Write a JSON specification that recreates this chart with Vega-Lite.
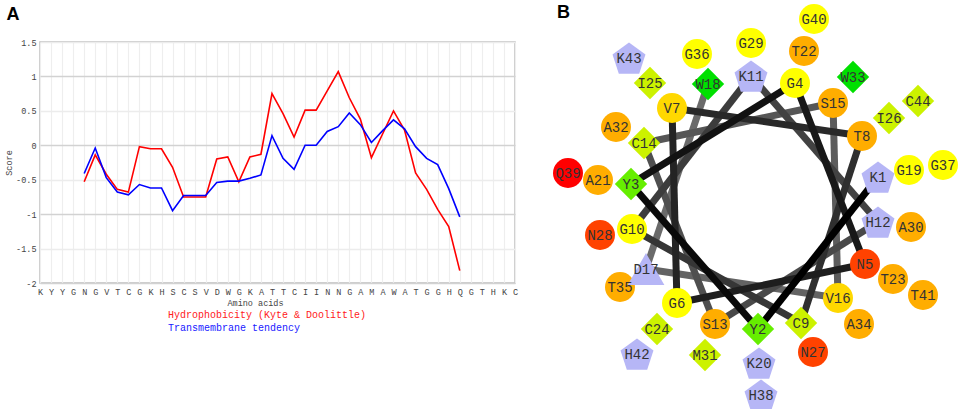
{
  "$schema": "https://vega.github.io/schema/vega-lite/v6.json",
  "background": "white",
  "padding": {"left": 3, "top": 4, "right": 0, "bottom": 0},
  "bounds": "flush",
  "spacing": 40,
  "config": {
    "view": {"stroke": "#bdbdbd", "strokeWidth": 1.5},
    "axis": {
      "labelFont": "Liberation Mono",
      "titleFont": "Liberation Mono",
      "labelColor": "#444",
      "titleColor": "#444",
      "titleFontWeight": "normal",
      "labelFontSize": 8.5,
      "titleFontSize": 8.5,
      "domain": false,
      "ticks": false
    },
    "title": {"font": "Liberation Sans", "fontSize": 18, "fontWeight": "bold", "color": "#000"}
  },
  "hconcat": [
    {
      "title": {"text": "A", "anchor": "start", "frame": "bounds", "offset": 14, "dx": 2},
      "width": 475,
      "height": 241,
      "data": {
        "values": [
          {"pos": 5, "hydro": -0.53, "tm": -0.41},
          {"pos": 6, "hydro": -0.14, "tm": -0.04},
          {"pos": 7, "hydro": -0.42, "tm": -0.47},
          {"pos": 8, "hydro": -0.64, "tm": -0.68},
          {"pos": 9, "hydro": -0.68, "tm": -0.72},
          {"pos": 10, "hydro": -0.02, "tm": -0.57},
          {"pos": 11, "hydro": -0.05, "tm": -0.62},
          {"pos": 12, "hydro": -0.05, "tm": -0.62},
          {"pos": 13, "hydro": -0.32, "tm": -0.95},
          {"pos": 14, "hydro": -0.75, "tm": -0.73},
          {"pos": 15, "hydro": -0.75, "tm": -0.73},
          {"pos": 16, "hydro": -0.75, "tm": -0.73},
          {"pos": 17, "hydro": -0.2, "tm": -0.54},
          {"pos": 18, "hydro": -0.17, "tm": -0.52},
          {"pos": 19, "hydro": -0.53, "tm": -0.52},
          {"pos": 20, "hydro": -0.17, "tm": -0.48},
          {"pos": 21, "hydro": -0.13, "tm": -0.43},
          {"pos": 22, "hydro": 0.75, "tm": 0.14},
          {"pos": 23, "hydro": 0.46, "tm": -0.19},
          {"pos": 24, "hydro": 0.12, "tm": -0.35},
          {"pos": 25, "hydro": 0.51, "tm": 0.0},
          {"pos": 26, "hydro": 0.51, "tm": 0.0},
          {"pos": 27, "hydro": 0.79, "tm": 0.2},
          {"pos": 28, "hydro": 1.07, "tm": 0.27},
          {"pos": 29, "hydro": 0.69, "tm": 0.47},
          {"pos": 30, "hydro": 0.38, "tm": 0.3},
          {"pos": 31, "hydro": -0.18, "tm": 0.04},
          {"pos": 32, "hydro": 0.16, "tm": 0.21},
          {"pos": 33, "hydro": 0.5, "tm": 0.37},
          {"pos": 34, "hydro": 0.22, "tm": 0.24},
          {"pos": 35, "hydro": -0.4, "tm": -0.02},
          {"pos": 36, "hydro": -0.64, "tm": -0.19},
          {"pos": 37, "hydro": -0.93, "tm": -0.28},
          {"pos": 38, "hydro": -1.18, "tm": -0.63},
          {"pos": 39, "hydro": -1.82, "tm": -1.04}
        ]
      },
      "transform": [{"fold": ["hydro", "tm"], "as": ["key", "score"]}],
      "mark": {"type": "line", "strokeWidth": 1.6},
      "encoding": {
        "x": {
          "field": "pos",
          "type": "quantitative",
          "scale": {"domain": [1, 44], "nice": false, "zero": false},
          "axis": {
            "values": [1, 2, 3, 4, 5, 6, 7, 8, 9, 10, 11, 12, 13, 14, 15, 16, 17, 18, 19, 20, 21, 22, 23, 24, 25, 26, 27, 28, 29, 30, 31, 32, 33, 34, 35, 36, 37, 38, 39, 40, 41, 42, 43, 44],
            "labelExpr": "substring('KYYGNGVTCGKHSCSVDWGKATTCIINNGAMAWATGGHQGTHKC', datum.value - 1, datum.value)",
            "labelOverlap": false,
            "labelFlush": false,
            "labelPadding": 4,
            "title": "Amino acids",
            "titlePadding": 3,
            "titleX": 215,
            "gridColor": "#eeeeee",
            "gridWidth": 1.2
          }
        },
        "y": {
          "field": "score",
          "type": "quantitative",
          "scale": {"domain": [-2, 1.5], "nice": false},
          "axis": {
            "values": [-2, -1.5, -1, -0.5, 0, 0.5, 1, 1.5],
            "labelExpr": "'' + datum.value",
            "labelPadding": 4,
            "title": "Score",
            "titlePadding": 2,
            "gridColor": {"condition": {"test": "datum.value % 1 == 0", "value": "#d2d2d2"}, "value": "#ececec"},
            "gridWidth": 1.5
          }
        },
        "color": {
          "field": "key",
          "type": "nominal",
          "scale": {"domain": ["hydro", "tm"], "range": ["#ff0000", "#0000ff"]},
          "legend": {
            "orient": "none",
            "legendX": 118,
            "legendY": 268,
            "title": null,
            "direction": "vertical",
            "symbolSize": 0,
            "symbolStrokeWidth": 0,
            "symbolOpacity": 0,
            "labelOffset": 0,
            "padding": 0,
            "rowPadding": 3,
            "labelFont": "Liberation Mono",
            "labelFontSize": 10,
            "labelLimit": 400,
            "labelExpr": "datum.value == 'hydro' ? 'Hydrophobicity (Kyte & Doolittle)' : 'Transmembrane tendency'",
            "labelColor": {"expr": "datum.value == 'tm' ? '#2020ff' : '#ff2020'"}
          }
        }
      }
    },
    {
      "title": {"text": "B", "anchor": "start", "frame": "group", "offset": -18, "dx": 2},
      "width": 405,
      "height": 360,
      "view": {"stroke": null},
      "data": {
        "values": [
          {"n": 1, "id": "K1", "aa": "K", "kind": "basic", "x": 123, "y": 26},
          {"n": 2, "id": "Y2", "aa": "Y", "kind": "nonpolar", "x": 3, "y": -126},
          {"n": 3, "id": "Y3", "aa": "Y", "kind": "nonpolar", "x": -124, "y": 19},
          {"n": 4, "id": "G4", "aa": "G", "kind": "polar", "x": 40, "y": 120},
          {"n": 5, "id": "N5", "aa": "N", "kind": "polar", "x": 110, "y": -61},
          {"n": 6, "id": "G6", "aa": "G", "kind": "polar", "x": -78, "y": -100},
          {"n": 7, "id": "V7", "aa": "V", "kind": "polar", "x": -83, "y": 95},
          {"n": 8, "id": "T8", "aa": "T", "kind": "polar", "x": 107, "y": 67},
          {"n": 9, "id": "C9", "aa": "C", "kind": "nonpolar", "x": 46, "y": -120},
          {"n": 10, "id": "G10", "aa": "G", "kind": "polar", "x": -123, "y": -26},
          {"n": 11, "id": "K11", "aa": "K", "kind": "basic", "x": -4, "y": 127},
          {"n": 12, "id": "H12", "aa": "H", "kind": "basic", "x": 123, "y": -19},
          {"n": 13, "id": "S13", "aa": "S", "kind": "polar", "x": -40, "y": -121},
          {"n": 14, "id": "C14", "aa": "C", "kind": "nonpolar", "x": -111, "y": 60},
          {"n": 15, "id": "S15", "aa": "S", "kind": "polar", "x": 78, "y": 100},
          {"n": 16, "id": "V16", "aa": "V", "kind": "polar", "x": 83, "y": -95},
          {"n": 17, "id": "D17", "aa": "D", "kind": "acidic", "x": -109, "y": -66},
          {"n": 18, "id": "W18", "aa": "W", "kind": "nonpolar", "x": -47, "y": 119},
          {"n": 19, "id": "G19", "aa": "G", "kind": "polar", "x": 154, "y": 33},
          {"n": 20, "id": "K20", "aa": "K", "kind": "basic", "x": 4, "y": -160},
          {"n": 21, "id": "A21", "aa": "A", "kind": "polar", "x": -157, "y": 23},
          {"n": 22, "id": "T22", "aa": "T", "kind": "polar", "x": 49, "y": 152},
          {"n": 23, "id": "T23", "aa": "T", "kind": "polar", "x": 138, "y": -76},
          {"n": 24, "id": "C24", "aa": "C", "kind": "nonpolar", "x": -98, "y": -126},
          {"n": 25, "id": "I25", "aa": "I", "kind": "nonpolar", "x": -105, "y": 120},
          {"n": 26, "id": "I26", "aa": "I", "kind": "nonpolar", "x": 134, "y": 85},
          {"n": 27, "id": "N27", "aa": "N", "kind": "polar", "x": 58, "y": -149},
          {"n": 28, "id": "N28", "aa": "N", "kind": "polar", "x": -155, "y": -32},
          {"n": 29, "id": "G29", "aa": "G", "kind": "polar", "x": -4, "y": 160},
          {"n": 30, "id": "A30", "aa": "A", "kind": "polar", "x": 156, "y": -24},
          {"n": 31, "id": "M31", "aa": "M", "kind": "nonpolar", "x": -50, "y": -152},
          {"n": 32, "id": "A32", "aa": "A", "kind": "polar", "x": -139, "y": 76},
          {"n": 33, "id": "W33", "aa": "W", "kind": "nonpolar", "x": 98, "y": 126},
          {"n": 34, "id": "A34", "aa": "A", "kind": "polar", "x": 104, "y": -121},
          {"n": 35, "id": "T35", "aa": "T", "kind": "polar", "x": -135, "y": -84},
          {"n": 36, "id": "G36", "aa": "G", "kind": "polar", "x": -58, "y": 149},
          {"n": 37, "id": "G37", "aa": "G", "kind": "polar", "x": 188, "y": 38},
          {"n": 38, "id": "H38", "aa": "H", "kind": "basic", "x": 6, "y": -192},
          {"n": 39, "id": "Q39", "aa": "Q", "kind": "polar", "x": -187, "y": 30},
          {"n": 40, "id": "G40", "aa": "G", "kind": "polar", "x": 59, "y": 184},
          {"n": 41, "id": "T41", "aa": "T", "kind": "polar", "x": 168, "y": -92},
          {"n": 42, "id": "H42", "aa": "H", "kind": "basic", "x": -118, "y": -151},
          {"n": 43, "id": "K43", "aa": "K", "kind": "basic", "x": -126, "y": 145},
          {"n": 44, "id": "C44", "aa": "C", "kind": "nonpolar", "x": 163, "y": 102}
        ]
      },
      "encoding": {
        "x": {"field": "x", "type": "quantitative", "scale": {"domain": [-200, 205], "nice": false, "zero": false}, "axis": null},
        "y": {"field": "y", "type": "quantitative", "scale": {"domain": [-199, 161], "nice": false, "zero": false}, "axis": null}
      },
      "layer": [
        {
          "transform": [
            {"filter": "datum.n <= 18"},
            {"window": [{"op": "lead", "field": "x", "as": "xn"}, {"op": "lead", "field": "y", "as": "yn"}], "sort": [{"field": "n"}]},
            {"filter": "datum.n <= 17"}
          ],
          "mark": {"type": "rule", "strokeWidth": 7, "strokeCap": "butt"},
          "encoding": {
            "x2": {"field": "xn"},
            "y2": {"field": "yn"},
            "color": {"field": "n", "type": "quantitative", "scale": {"domain": [1, 17], "range": ["#000000", "#6a6a6a"]}, "legend": null},
            "order": {"field": "n", "sort": "descending"}
          }
        },
        {
          "mark": {"type": "point", "filled": true, "opacity": 1, "strokeWidth": 0},
          "encoding": {
            "shape": {
              "field": "kind",
              "type": "nominal",
              "scale": {
                "domain": ["polar", "nonpolar", "basic", "acidic"],
                "range": ["circle", "diamond", "M0,-0.9L0.951,-0.209L0.588,0.905L-0.588,0.905L-0.951,-0.209Z", "triangle-up"]
              },
              "legend": null
            },
            "size": {
              "field": "kind",
              "type": "nominal",
              "scale": {"domain": ["polar", "nonpolar", "basic", "acidic"], "range": [900, 1350, 1150, 1050]},
              "legend": null
            },
            "color": {
              "field": "aa",
              "type": "nominal",
              "scale": {
                "domain": ["G", "V", "T", "S", "A", "N", "Q", "W", "Y", "C", "I", "M", "K", "H", "D"],
                "range": ["#ffff00", "#ffd800", "#ffad00", "#ffad00", "#ffad00", "#ff4200", "#ff0000", "#00e000", "#66ee00", "#ccf200", "#ccf200", "#ccf200", "#b6b6f6", "#b6b6f6", "#b6b6f6"]
              },
              "legend": null
            },
            "order": {"field": "n", "sort": "descending"}
          }
        },
        {
          "mark": {"type": "text", "font": "Liberation Mono", "fontSize": 14, "color": "#333", "align": "center", "baseline": "middle", "dy": 1},
          "encoding": {
            "text": {"field": "id", "type": "nominal"}
          }
        }
      ]
    }
  ]
}
